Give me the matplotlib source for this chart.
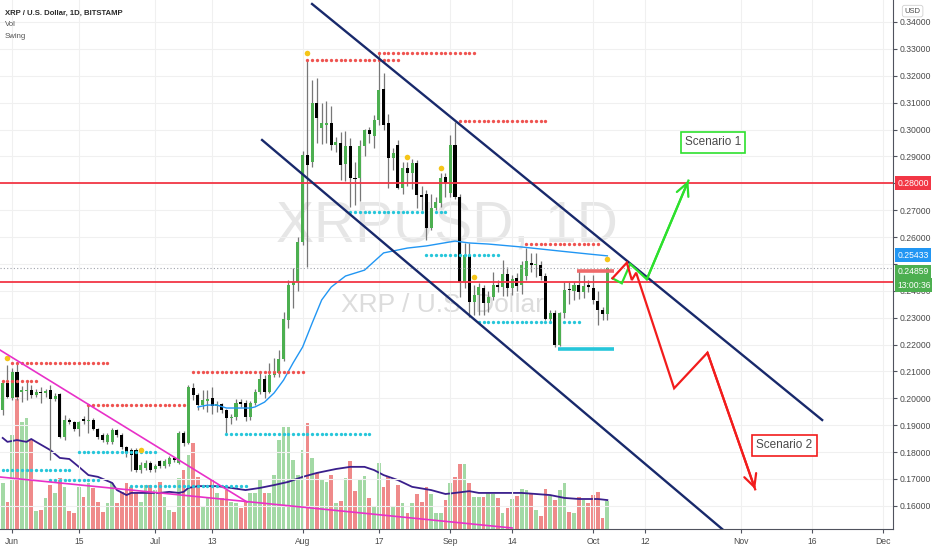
import numpy as np
import pandas as pd
import matplotlib
matplotlib.use("Agg")
import matplotlib.pyplot as plt
import matplotlib.transforms as mtransforms

plt.rcParams['font.family'] = ['Liberation Sans', 'DejaVu Sans']

# ---------------- data ----------------
start_date = '2020-05-30'
opens = [
    0.1957, 0.2057, 0.2001, 0.2098, 0.2024, 0.2027, 0.2031, 0.2013, 0.2024, 0.2020,
    0.2031, 0.1998, 0.2016, 0.1856, 0.1919, 0.1912, 0.1886, 0.1923, 0.1916, 0.1919,
    0.1886, 0.1864, 0.1838, 0.1838, 0.1882, 0.1864, 0.1819, 0.1808, 0.1808, 0.1733,
    0.1741, 0.1760, 0.1737, 0.1767, 0.1748, 0.1756, 0.1778, 0.1760, 0.1871, 0.1834,
    0.2038, 0.2012, 0.1975, 0.1990, 0.2001, 0.1972, 0.1979, 0.1957, 0.1927, 0.1931,
    0.1987, 0.1983, 0.1931, 0.1983, 0.2024, 0.2072, 0.2024, 0.2087, 0.2094, 0.2147,
    0.2291, 0.2422, 0.2433, 0.2582, 0.2905, 0.2879, 0.3099, 0.3004, 0.3017, 0.3025,
    0.2942, 0.2950, 0.2872, 0.2939, 0.2820, 0.2820, 0.2939, 0.2998, 0.2976, 0.3035,
    0.3151, 0.3025, 0.2894, 0.2942, 0.2782, 0.2857, 0.2838, 0.2875, 0.2756, 0.2760,
    0.2633, 0.2708, 0.2726, 0.2823, 0.2764, 0.2942, 0.2749, 0.2433, 0.2533, 0.2358,
    0.2384, 0.2410, 0.2355, 0.2377, 0.2422, 0.2414, 0.2462, 0.2410, 0.2448, 0.2422,
    0.2455, 0.2503, 0.2496, 0.2496, 0.2455, 0.2295, 0.2318, 0.2198, 0.2318, 0.2407,
    0.2399, 0.2422, 0.2396, 0.2422, 0.2410, 0.2362, 0.2329, 0.2314]
highs = [
    0.2064, 0.2124, 0.2113, 0.2135, 0.2046, 0.2068, 0.2050, 0.2035, 0.2042, 0.2035,
    0.2050, 0.2020, 0.2020, 0.1938, 0.1927, 0.1916, 0.1916, 0.1934, 0.1975, 0.1927,
    0.1890, 0.1871, 0.1871, 0.1890, 0.1886, 0.1871, 0.1823, 0.1815, 0.1815, 0.1763,
    0.1771, 0.1767, 0.1756, 0.1771, 0.1775, 0.1785, 0.1782, 0.1878, 0.1878, 0.2050,
    0.2057, 0.2020, 0.2031, 0.2031, 0.2042, 0.1990, 0.1983, 0.1960, 0.1940, 0.1998,
    0.1998, 0.1994, 0.1990, 0.2035, 0.2094, 0.2087, 0.2131, 0.2150, 0.2180, 0.2320,
    0.2440, 0.2485, 0.2600, 0.2920, 0.3259, 0.3184, 0.3192, 0.3099, 0.3107, 0.3088,
    0.2972, 0.2991, 0.2995, 0.2968, 0.2880, 0.2960, 0.3001, 0.3010, 0.3054, 0.3285,
    0.3210, 0.3058, 0.2930, 0.2961, 0.2880, 0.2879, 0.2890, 0.2885, 0.2790, 0.2775,
    0.2760, 0.2750, 0.2838, 0.2838, 0.2980, 0.3028, 0.2760, 0.2578, 0.2578, 0.2422,
    0.2430, 0.2420, 0.2400, 0.2470, 0.2440, 0.2515, 0.2490, 0.2460, 0.2465, 0.2510,
    0.2559, 0.2540, 0.2540, 0.2510, 0.2465, 0.2330, 0.2330, 0.2320, 0.2433, 0.2433,
    0.2433, 0.2477, 0.2460, 0.2440, 0.2460, 0.2400, 0.2340, 0.2490]
lows = [
    0.1938, 0.2001, 0.1994, 0.1994, 0.1987, 0.1994, 0.2001, 0.2005, 0.1983, 0.2005,
    0.1771, 0.1990, 0.1852, 0.1845, 0.1905, 0.1878, 0.1860, 0.1905, 0.1871, 0.1882,
    0.1849, 0.1838, 0.1830, 0.1830, 0.1856, 0.1812, 0.1782, 0.1730, 0.1726, 0.1722,
    0.1733, 0.1726, 0.1726, 0.1740, 0.1741, 0.1750, 0.1763, 0.1756, 0.1823, 0.1830,
    0.1994, 0.1957, 0.1960, 0.1950, 0.1940, 0.1950, 0.1945, 0.1871, 0.1905, 0.1920,
    0.1968, 0.1916, 0.1920, 0.1975, 0.2016, 0.2001, 0.2020, 0.2080, 0.2080, 0.2140,
    0.2260, 0.2336, 0.2400, 0.2570, 0.2489, 0.2860, 0.2950, 0.2946, 0.2950, 0.2924,
    0.2916, 0.2812, 0.2808, 0.2712, 0.2718, 0.2733, 0.2900, 0.2950, 0.2930, 0.3017,
    0.2998, 0.2782, 0.2850, 0.2778, 0.2759, 0.2790, 0.2780, 0.2708, 0.2700, 0.2589,
    0.2625, 0.2700, 0.2710, 0.2750, 0.2750, 0.2740, 0.2377, 0.2410, 0.2303, 0.2310,
    0.2310, 0.2310, 0.2320, 0.2365, 0.2395, 0.2380, 0.2380, 0.2385, 0.2400, 0.2390,
    0.2440, 0.2470, 0.2450, 0.2440, 0.2290, 0.2280, 0.2191, 0.2194, 0.2300, 0.2350,
    0.2365, 0.2370, 0.2375, 0.2395, 0.2350, 0.2273, 0.2290, 0.2290]
closes = [
    0.2057, 0.2005, 0.2098, 0.2005, 0.2031, 0.2031, 0.2013, 0.2024, 0.2020, 0.2027,
    0.1998, 0.2009, 0.1856, 0.1919, 0.1912, 0.1886, 0.1912, 0.1916, 0.1921, 0.1886,
    0.1856, 0.1845, 0.1864, 0.1882, 0.1864, 0.1819, 0.1797, 0.1790, 0.1733, 0.1752,
    0.1760, 0.1733, 0.1748, 0.1748, 0.1767, 0.1778, 0.1771, 0.1871, 0.1834, 0.2042,
    0.2012, 0.1975, 0.1994, 0.1998, 0.1972, 0.1979, 0.1957, 0.1927, 0.1931, 0.1983,
    0.1979, 0.1931, 0.1983, 0.2024, 0.2072, 0.2024, 0.2087, 0.2094, 0.2147, 0.2295,
    0.2422, 0.2433, 0.2582, 0.2905, 0.2868, 0.3099, 0.3043, 0.3023, 0.3025, 0.2942,
    0.2953, 0.2868, 0.2939, 0.2820, 0.2816, 0.2939, 0.2998, 0.2983, 0.3035, 0.3147,
    0.3017, 0.2894, 0.2913, 0.2782, 0.2857, 0.2838, 0.2875, 0.2756, 0.2749, 0.2633,
    0.2708, 0.2730, 0.2820, 0.2801, 0.2942, 0.2749, 0.2433, 0.2533, 0.2358, 0.2384,
    0.2414, 0.2355, 0.2377, 0.2422, 0.2414, 0.2462, 0.2410, 0.2444, 0.2418, 0.2496,
    0.2511, 0.2496, 0.2500, 0.2455, 0.2295, 0.2318, 0.2198, 0.2318, 0.2403, 0.2403,
    0.2422, 0.2396, 0.2418, 0.2414, 0.2366, 0.2329, 0.2314, 0.2486]
volumes = [
    129, 76, 263, 370, 300, 311, 249, 50, 53, 87,
    123, 101, 143, 118, 50, 45, 118, 90, 129, 115,
    76, 48, 73, 129, 73, 104, 129, 118, 101, 76,
    123, 123, 109, 132, 90, 53, 48, 143, 165, 207,
    241, 146, 62, 90, 137, 101, 87, 109, 76, 73,
    59, 76, 101, 101, 140, 101, 101, 151, 249, 286,
    286, 193, 151, 221, 297, 199, 157, 137, 132, 151,
    73, 78, 143, 190, 106, 137, 148, 87, 64, 185,
    118, 146, 62, 123, 73, 45, 73, 98, 76, 118,
    98, 45, 45, 81, 129, 146, 182, 182, 129, 90,
    90, 90, 101, 98, 87, 45, 59, 84, 92, 112,
    109, 98, 53, 36, 112, 92, 81, 109, 129, 48,
    45, 90, 81, 73, 95, 104, 31, 78]

# volume moving average (read at sample bars)
vol_ma_idx = [0, 1, 3, 5, 6, 7, 10, 12, 14, 16, 18, 20, 23, 24, 26, 27, 29, 33, 35, 37,
              38, 39, 41, 45, 48, 51, 54, 57, 60, 63, 66, 70, 73, 76, 78, 80, 83, 86, 90, 93,
              95, 98, 100, 104, 109, 115, 118, 121, 125, 127]
vol_ma = [255, 244, 249, 244, 252, 244, 221, 199, 196, 174, 151, 146, 129, 109, 95, 101, 101, 101, 104, 101,
          104, 115, 120, 120, 115, 109, 115, 123, 132, 146, 157, 168, 174, 174, 165, 151, 137, 118, 109, 98,
          101, 106, 101, 101, 101, 95, 87, 84, 84, 81]

# price moving average (read at sample bars)
ma_idx = [41, 43, 45, 47, 49, 52, 53, 55, 57, 59, 61, 63, 65, 67, 69, 72, 76, 80, 85, 89,
          94, 95, 98, 102, 109, 117, 123, 127]
ma_val = [0.1968, 0.1975, 0.1975, 0.1964, 0.1964, 0.1964, 0.1968, 0.1986, 0.2020, 0.2068,
          0.2132, 0.2191, 0.2280, 0.2366, 0.2414, 0.2455, 0.2477, 0.2541, 0.2559, 0.2567,
          0.2582, 0.2585, 0.2578, 0.2574, 0.2563, 0.2548, 0.2537, 0.2530]

# swing indicator levels (price, first bar, last bar)
swing_high_level = [0.21304, 0.20656, 0.19752, 0.2099, 0.32586, 0.32858, 0.30328, 0.25742]
swing_high_from = [2, 0, 18, 40, 64, 79, 96, 110]
swing_high_to = [22, 7, 38, 63, 83, 99, 114, 125]
swing_low_level = [0.17334, 0.18015, 0.16962, 0.16750, 0.18674, 0.26932, 0.26932, 0.25332, 0.22840, 0.22840]
swing_low_from = [0, 16, 10, 27, 47, 73, 91, 89, 100, 118]
swing_low_to = [14, 32, 20, 51, 77, 88, 93, 104, 115, 121]
active_high = (0.24737, 121, 128)
active_low = (0.21824, 117, 128)
pivot_idx = [1, 29, 64, 85, 92, 99, 127]
pivot_price = [0.2149, 0.1808, 0.3286, 0.2899, 0.2858, 0.2450, 0.2517]

# drawings (bar index, price)
channel_upper_x = [64.98, 172.12]
channel_upper_y = [0.34670, 0.19194]
channel_lower_x = [54.48, 151.11]
channel_lower_y = [0.29610, 0.15140]
pink_line1_x = [-0.57, 51.32]
pink_line1_y = [0.21798, 0.16144]
pink_line2_x = [-0.57, 107.0]
pink_line2_y = [0.17074, 0.15177]
green_path_x = [128.07, 130.04, 131.79, 135.29, 144.03]
green_path_y = [0.24466, 0.24280, 0.24998, 0.24429, 0.2810]
red_path_x = [128.07, 131.09, 132.14, 133.05, 141.03, 148.03, 158.05]
red_path_y = [0.24466, 0.25046, 0.24402, 0.24674, 0.20374, 0.21698, 0.16616]
level_top = 0.28
level_mid = 0.2432
last_price = 0.24859
ma_last = 0.25433
scenario1_pos = (149.2, 0.29522)
scenario2_pos = (164.2, 0.18246)

price_ticks = [0.16, 0.17, 0.18, 0.19, 0.20, 0.21, 0.22, 0.23, 0.24, 0.25, 0.26,
               0.27, 0.28, 0.29, 0.30, 0.31, 0.32, 0.33, 0.34]
hidden_ticks = [0.25, 0.28]   # covered by the coloured price labels
date_ticks = ['2020-06-01', '2020-06-15', '2020-07-01', '2020-07-13', '2020-08-01', '2020-08-17',
              '2020-09-01', '2020-09-14', '2020-10-01', '2020-10-12', '2020-11-01', '2020-11-16',
              '2020-12-01']
date_labels = ['Jun', '15', 'Jul', '13', 'Aug', '17', 'Sep', '14', 'Oct', '12', 'Nov', '16', 'Dec']

# ---------------- figure ----------------
o = np.array(opens); h = np.array(highs); l = np.array(lows); c = np.array(closes)
v = np.array(volumes)
dates = pd.date_range(start_date, periods=len(o), freq='D')
x = np.arange(len(o))
up = c >= o

fig = plt.figure(figsize=(9.32, 5.5), dpi=100, facecolor='white')
ax = fig.add_axes([0, 21 / 550, 893 / 932, 529 / 550])
axv = ax.twinx()
axv.set_zorder(1)
ax.set_zorder(2)
ax.patch.set_visible(False)
axv.patch.set_visible(True)
axv.patch.set_facecolor('white')

ax.set_xlim(-0.567, 187.0)
ax.set_ylim(0.151396, 0.348184)
axv.set_ylim(0, 529 * 2.8)
axv.set_yticks([])
for s in axv.spines.values():
    s.set_visible(False)

# watermark
axv.text(0.501, 0.570, 'XRPUSD, 1D', transform=axv.transAxes, ha='center', va='center',
         fontsize=41, color='#e6e6e6', zorder=0)
axv.text(0.495, 0.423, 'XRP / U.S. Dollar', transform=axv.transAxes, ha='center', va='center',
         fontsize=19, color='#dcdcdc', zorder=0)

# volume
axv.bar(x, v, width=0.78, color=np.where(up, '#a3d9a5', '#ef8a8a'), zorder=1)
axv.plot(vol_ma_idx, vol_ma, color='#3a1f8c', lw=1.3, zorder=2)

# grid
tick_x = [(pd.Timestamp(d) - dates[0]).days for d in date_ticks]
for tx in tick_x:
    ax.axvline(tx, color='#f0f0f0', lw=0.8, zorder=0)
for ty in price_ticks:
    ax.axhline(ty, color='#f0f0f0', lw=0.8, zorder=0)

# candles
ax.vlines(x, l, h, color='#777777', lw=0.9, zorder=3)
body = np.maximum(np.abs(c - o), 0.0004)
ax.bar(x, body, bottom=np.minimum(o, c), width=0.64,
       color=np.where(up, '#4caf50', '#000000'), zorder=4)

# moving average
ax.plot(ma_idx, ma_val, color='#2196f3', lw=1.0, zorder=5)

# swing dots
for lev, a, b in zip(swing_high_level, swing_high_from, swing_high_to):
    xs = np.arange(a, b + 1)
    ax.plot(xs, np.full(len(xs), lev), ls='none', marker='o', ms=2.4, color='#ef5350', mec='none', zorder=6)
for lev, a, b in zip(swing_low_level, swing_low_from, swing_low_to):
    xs = np.arange(a, b + 1)
    ax.plot(xs, np.full(len(xs), lev), ls='none', marker='o', ms=2.4, color='#26c6da', mec='none', zorder=6)
ax.plot([active_high[1] - 0.4, active_high[2] + 0.4], [active_high[0]] * 2, color='#ef6a6a', lw=2.6,
        solid_capstyle='butt', zorder=6)
ax.plot([active_low[1] - 0.4, active_low[2] + 0.4], [active_low[0]] * 2, color='#26c6da', lw=2.6,
        solid_capstyle='butt', zorder=6)
ax.plot(pivot_idx, pivot_price, ls='none', marker='o', ms=4, color='#f5c518', mec='none', zorder=7)

# horizontal levels
ax.axhline(level_top, color='#f23645', lw=1.3, zorder=6)
ax.axhline(level_mid, color='#f23645', lw=1.3, zorder=6)
ax.axhline(last_price, color='#a0a3ab', lw=0.8, ls=(0, (1, 2)), zorder=5)

# channel and trend lines
ax.plot(channel_upper_x, channel_upper_y, color='#18296b', lw=1.7, zorder=8)
ax.plot(channel_lower_x, channel_lower_y, color='#18296b', lw=1.7, zorder=8)
ax.plot(pink_line1_x, pink_line1_y, color='#e830c8', lw=1.2, zorder=8)
ax.plot(pink_line2_x, pink_line2_y, color='#e830c8', lw=1.2, zorder=8)

# scenario paths
def draw_path(px, py, col):
    ax.plot(px, py, color=col, lw=1.6, zorder=9, solid_joinstyle='miter')
    ax.annotate('', xy=(px[-1], py[-1]), xytext=(px[-2], py[-2]),
                arrowprops=dict(arrowstyle='->,head_length=0.9,head_width=0.45', color=col, lw=1.6,
                                shrinkA=0, shrinkB=0, mutation_scale=10), zorder=9)

draw_path(green_path_x, green_path_y, '#2de02d')
draw_path(red_path_x, red_path_y, '#f21c1c')

ax.text(scenario1_pos[0], scenario1_pos[1], 'Scenario 1', ha='center', va='center', fontsize=8.5,
        color='#4a4a4a', zorder=10,
        bbox=dict(boxstyle='square,pad=0.35', fc='white', ec='#2de02d', lw=1.2))
ax.text(scenario2_pos[0], scenario2_pos[1], 'Scenario 2', ha='center', va='center', fontsize=8.5,
        color='#4a4a4a', zorder=10,
        bbox=dict(boxstyle='square,pad=0.35', fc='white', ec='#f21c1c', lw=1.2))

# axes styling
for side in ['top', 'left']:
    ax.spines[side].set_visible(False)
ax.spines['right'].set_color('#50535e')
ax.spines['bottom'].set_color('#50535e')
ax.yaxis.tick_right()
ax.set_yticks(price_ticks)
ax.set_yticklabels(['' if any(abs(t - ht) < 1e-9 for ht in hidden_ticks) else '%.5f' % t
                    for t in price_ticks])
ax.tick_params(axis='y', direction='out', length=3, pad=2, labelsize=6.2, colors='#4a4a4a',
               color='#50535e')
ax.set_xticks(tick_x)
ax.set_xticklabels(date_labels)
ax.tick_params(axis='x', direction='out', length=3, pad=3, labelsize=6.2, colors='#4a4a4a',
               color='#50535e')

# price labels on the right scale
tr = mtransforms.blended_transform_factory(ax.transAxes, ax.transData)
def price_label(val, txt, fc, dy=0):
    ax.annotate(txt, xy=(1.0, val), xycoords=tr, xytext=(3, dy), textcoords='offset points',
                ha='left', va='center', fontsize=6.2, color='white', annotation_clip=False, zorder=20,
                bbox=dict(boxstyle='square,pad=0.3', fc=fc, ec='none'))

price_label(level_top, '%.5f' % level_top, '#f23645')
price_label(ma_last, '%.5f' % ma_last, '#2196f3', dy=-2)
price_label(last_price, '%.5f' % last_price, '#4caf50', dy=-2.8)
price_label(last_price, '13:00:36', '#4caf50', dy=-12.5)
ax.text(1.013, 0.979, 'USD', transform=ax.transAxes, ha='left', va='center', fontsize=5.5,
        color='#4a4a4a', clip_on=False, zorder=20,
        bbox=dict(boxstyle='round,pad=0.3,rounding_size=0.3', fc='white', ec='#d0d0d0', lw=0.6))

# legend
fig.text(5 / 932, 1 - 13 / 550, 'XRP / U.S. Dollar, 1D, BITSTAMP', ha='left', va='center',
         fontsize=5.6, color='#2a2a2a', fontweight='bold')
fig.text(5 / 932, 1 - 24.5 / 550, 'Vol', ha='left', va='center', fontsize=5.6, color='#555555')
fig.text(5 / 932, 1 - 36.5 / 550, 'Swing', ha='left', va='center', fontsize=5.6, color='#555555')

fig.savefig('out.png', dpi=100, facecolor='white')
